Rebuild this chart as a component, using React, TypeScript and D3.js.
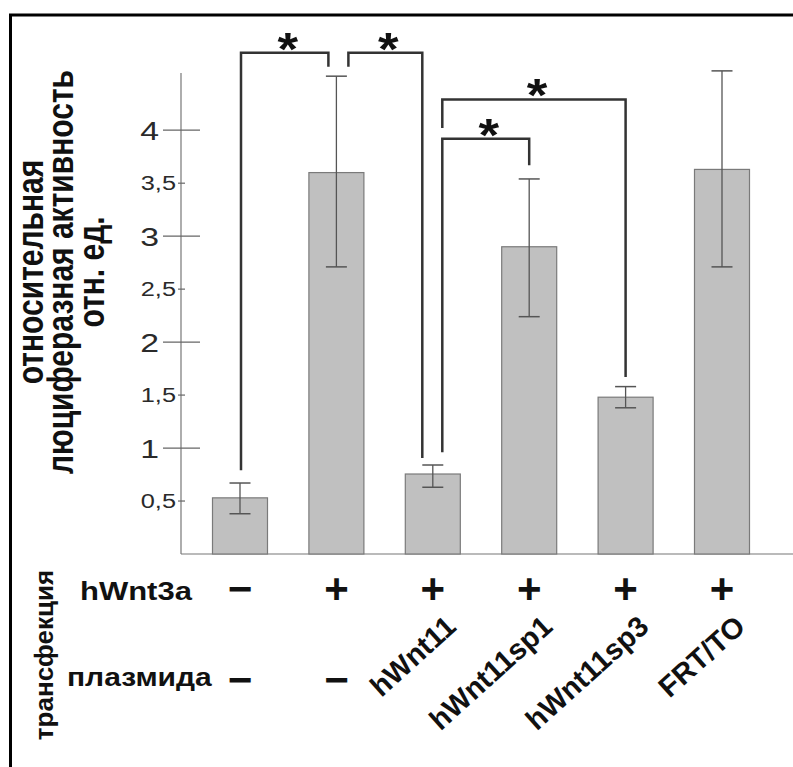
import React from "react";
import * as d3 from "d3";

// данные
const categories = ["ctrl", "wnt3a", "hWnt11", "hWnt11sp1", "hWnt11sp3", "FRT/TO"];
const hWnt3aRow = ["−", "+", "+", "+", "+", "+"];
const plasmidRow = ["−", "−", "hWnt11", "hWnt11sp1", "hWnt11sp3", "FRT/TO"];
const means = [0.53, 3.6, 0.755, 2.9, 1.48, 3.63];
const errHigh = [0.67, 4.51, 0.84, 3.54, 1.58, 4.56];
const errLow = [0.38, 2.71, 0.63, 2.24, 1.38, 2.71];
const yTicks = [0.5, 1, 1.5, 2, 2.5, 3, 3.5, 4];
const yTickLabels = ["0,5", "1", "1,5", "2", "2,5", "3", "3,5", "4"];
const yTitle = ["относительная", "люциферазная активность", "отн. ед."];
const sideTitle = "трансфекция";
const rowTitles = ["hWnt3a", "плазмида"];

// скобки значимости (индексы столбцов и уровни в единицах оси)
const sigFrom = [0, 1, 2, 2];
const sigTo = [1, 2, 4, 3];
const sigLevel = [4.73, 4.73, 4.29, 3.92];
const sigFromEnd = [0.79, 4.6, 4.02, 0.96];
const sigToEnd = [4.6, 0.905, 1.67, 3.67];
const sigFromShift = [1, 12, 9.5, 9.5];
const sigToShift = [-8, -10.5, 0, 0];

const W = 793;
const H = 767;
const FONT = "'Liberation Sans', Arial, sans-serif";

function T({ x, y, sx = 1, rot = 0, children, ...rest }: any) {
  return (
    <text
      transform={`translate(${x},${y}) scale(${sx},1) rotate(${rot})`}
      fontFamily={FONT}
      {...rest}
    >
      {children}
    </text>
  );
}

export default function App() {
  const y = d3.scaleLinear().domain([0, 4.54]).range([554, 73]);
  const x = d3.scalePoint<string>().domain(categories).range([240, 722]);
  const barW = 55;
  const capW = 21;
  const axisX = 181;

  const bracketPath = (i: number) => {
    const x1 = (x(categories[sigFrom[i]]) as number) + sigFromShift[i];
    const x2 = (x(categories[sigTo[i]]) as number) + sigToShift[i];
    const p = d3.path();
    p.moveTo(x1, y(sigFromEnd[i]));
    p.lineTo(x1, y(sigLevel[i]));
    p.lineTo(x2, y(sigLevel[i]));
    p.lineTo(x2, y(sigToEnd[i]));
    return { d: p.toString(), mid: (x1 + x2) / 2 };
  };

  return (
    <svg
      width={W}
      height={H}
      style={{ position: "fixed", left: 0, top: 0, background: "#fff" }}
    >
      <rect width={W} height={H} fill="#fff" />
      {/* рамка */}
      <line x1={9} x2={W} y1={15} y2={15} stroke="#000" strokeWidth={3} />
      <line x1={10.5} x2={10.5} y1={14} y2={H} stroke="#000" strokeWidth={3} />

      {/* ось */}
      <line x1={axisX} x2={axisX} y1={y(4.54)} y2={y(0)} stroke="#777" strokeWidth={1.2} />
      <line x1={axisX} x2={W} y1={y(0)} y2={y(0)} stroke="#777" strokeWidth={1.2} />
      {yTicks.map((t, i) => {
        const major = Number.isInteger(t);
        return (
          <g key={t}>
            <line
              x1={major ? 163 : 178}
              x2={major ? 200 : 185}
              y1={y(t)}
              y2={y(t)}
              stroke="#666"
              strokeWidth={1.2}
            />
            <T
              x={major ? 159 : 176}
              y={y(t) + (major ? 9.5 : 7)}
              sx={1.3}
              textAnchor="end"
              fontSize={major ? 26 : 19.5}
              fill="#2a2a2a"
            >
              {yTickLabels[i]}
            </T>
          </g>
        );
      })}

      {/* столбцы */}
      {means.map((m, i) => {
        const cx = x(categories[i]) as number;
        return (
          <g key={i}>
            <rect
              x={cx - barW / 2}
              y={y(m)}
              width={barW}
              height={y(0) - y(m)}
              fill="#c0c0c0"
              stroke="#7a7a7a"
              strokeWidth={1.2}
            />
            <line x1={cx} x2={cx} y1={y(errHigh[i])} y2={y(errLow[i])} stroke="#555" strokeWidth={1.3} />
            <line x1={cx - capW / 2} x2={cx + capW / 2} y1={y(errHigh[i])} y2={y(errHigh[i])} stroke="#555" strokeWidth={1.5} />
            <line x1={cx - capW / 2} x2={cx + capW / 2} y1={y(errLow[i])} y2={y(errLow[i])} stroke="#555" strokeWidth={1.5} />
          </g>
        );
      })}

      {/* значимость */}
      {sigFrom.map((_, i) => {
        const b = bracketPath(i);
        return (
          <g key={i}>
            <path d={b.d} fill="none" stroke="#333" strokeWidth={2.5} />
            <T
              x={b.mid + 3}
              y={y(sigLevel[i]) - 13 + 25}
              sx={1.15}
              textAnchor="middle"
              fontSize={46}
              fontWeight="bold"
              fill="#111"
            >
              *
            </T>
          </g>
        );
      })}

      {/* заголовок оси */}
      {yTitle.map((s, i) => (
        <T
          key={i}
          x={[43, 73, 104][i]}
          y={272}
          sx={1.22}
          rot={-90}
          textAnchor="middle"
          fontSize={30}
          fontWeight="bold"
          fill="#111"
        >
          {s}
        </T>
      ))}

      {/* таблица трансфекции */}
      <T x={53} y={655} rot={-90} textAnchor="middle" fontSize={26} fontWeight="bold" fill="#111">
        {sideTitle}
      </T>
      <T x={80} y={600} sx={1.24} fontSize={25} fontWeight="bold" fill="#111">
        {rowTitles[0]}
      </T>
      <T x={67} y={686} sx={1.2} fontSize={25} fontWeight="bold" fill="#111">
        {rowTitles[1]}
      </T>
      {hWnt3aRow.map((s, i) => (
        <T key={i} x={x(categories[i])} y={603} textAnchor="middle" fontSize={42} fontWeight="bold" fill="#111">
          {s}
        </T>
      ))}
      {plasmidRow.map((s, i) =>
        s === "−" ? (
          <T key={i} x={x(categories[i])} y={694} textAnchor="middle" fontSize={42} fontWeight="bold" fill="#111">
            {s}
          </T>
        ) : (
          <T
            key={i}
            x={(x(categories[i]) as number) + 25}
            y={629}
            rot={-42}
            textAnchor="end"
            fontSize={29}
            fontWeight="bold"
            fill="#111"
          >
            {s}
          </T>
        )
      )}
    </svg>
  );
}
